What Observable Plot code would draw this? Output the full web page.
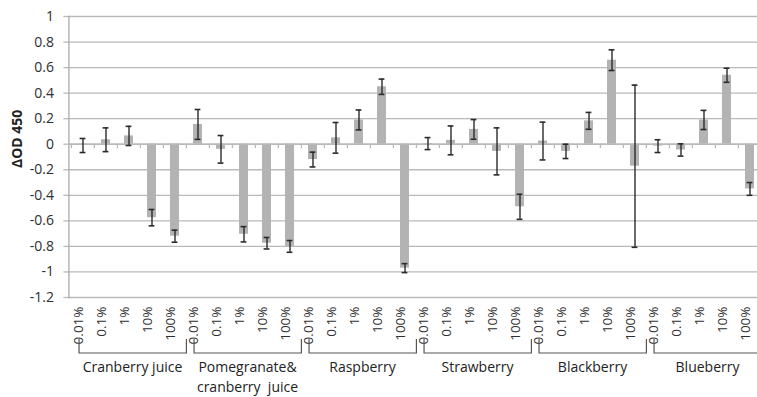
<!DOCTYPE html>
<html><head><meta charset="utf-8">
<script src="https://cdn.jsdelivr.net/npm/d3@7"></script>
<script src="https://cdn.jsdelivr.net/npm/@observablehq/plot@0.6"></script>
<style>
html,body{margin:0;padding:0;background:#fff;overflow:hidden;}
text{white-space:pre;}
</style></head><body><div id="chart"></div>
<script>
// ---- data ----
const groupLabels = ["Cranberry juice", "Pomegranate&\ncranberry  juice", "Raspberry", "Strawberry", "Blackberry", "Blueberry"];
const concentrations = ["0.01%", "0.1%", "1%", "10%", "100%"];
const cranberryJuice      = [-0.01, 0.035, 0.065, -0.575, -0.72];
const cranberryJuiceErr   = [0.055, 0.093, 0.075, 0.064, 0.047];
const pomegranateCran     = [0.155, -0.04, -0.705, -0.775, -0.80];
const pomegranateCranErr  = [0.117, 0.108, 0.06, 0.045, 0.046];
const raspberry           = [-0.12, 0.05, 0.19, 0.45, -0.97];
const raspberryErr        = [0.058, 0.12, 0.078, 0.06, 0.035];
const strawberry          = [0.005, 0.03, 0.116, -0.056, -0.49];
const strawberryErr       = [0.047, 0.113, 0.077, 0.184, 0.098];
const blackberry          = [0.025, -0.056, 0.183, 0.658, -0.172];
const blackberryErr       = [0.148, 0.056, 0.066, 0.081, 0.635];
const blueberry           = [-0.015, -0.045, 0.19, 0.54, -0.35];
const blueberryErr        = [0.05, 0.048, 0.075, 0.055, 0.05];
const yTicks = [-1.2, -1, -0.8, -0.6, -0.4, -0.2, 0, 0.2, 0.4, 0.6, 0.8, 1];

const seriesValues = [cranberryJuice, pomegranateCran, raspberry, strawberry, blackberry, blueberry];
const seriesErrors = [cranberryJuiceErr, pomegranateCranErr, raspberryErr, strawberryErr, blackberryErr, blueberryErr];

const rows = [];
groupLabels.forEach((g, gi) => concentrations.forEach((c, ci) => {
  rows.push({group: gi, conc: c, key: gi + "|" + c, value: seriesValues[gi][ci], err: seriesErrors[gi][ci]});
}));
const keys = rows.map(d => d.key);
const groupRows = groupLabels.map((g, gi) => ({label: g, first: gi + "|" + concentrations[0], mid: gi + "|" + concentrations[2], last: gi + "|" + concentrations[4]}));

// ---- layout ----
const W = 757, H = 397, mL = 68.4, mR = -6.6, mT = 16, mB = 100;
const step = (W - mL - mR) / keys.length;
const grid = "#b9b9b9", ink = "#2e2e2e";

const chart = Plot.plot({
  width: W, height: H,
  marginLeft: mL, marginRight: mR, marginTop: mT, marginBottom: mB,
  style: {fontFamily: "'Open Sans', sans-serif", fontSize: "14px", color: ink, background: "#fff", overflow: "visible"},
  x: {type: "band", domain: keys, paddingInner: 0.6, paddingOuter: 0.3, align: 0.5, axis: null},
  y: {domain: [-1.2, 1], axis: null},
  marks: [
    Plot.gridY(yTicks, {stroke: grid, strokeOpacity: 1, strokeWidth: 1.3}),
    Plot.axisY({ticks: yTicks, tickSize: 5, tickPadding: 10, tickFormat: d => String(d), stroke: grid, strokeWidth: 1.3, fill: ink, fontSize: 14, label: null}),
    Plot.frame({anchor: "left", stroke: "#aaaaaa", strokeWidth: 1.3}),
    Plot.text(["ΔOD 450"], {frameAnchor: "left", dx: -51, dy: 11, rotate: -90, fontWeight: "bold", fontSize: 14, fill: "#222"}),
    Plot.barY(rows, {x: "key", y: "value", fill: "#b3b3b3"}),
    Plot.ruleY([0], {stroke: grid, strokeWidth: 1.3}),
    Plot.ruleX(rows, {x: "key", y1: 0, y2: -0.035, dx: -step / 2, stroke: grid, strokeWidth: 1.3}),
    Plot.ruleX(rows, {x: "key", y1: d => d.value - d.err, y2: d => d.value + d.err, stroke: "#2a2a2a", strokeWidth: 1.4}),
    Plot.tickY(rows, {x: "key", y: d => d.value + d.err, stroke: "#2a2a2a", strokeWidth: 1.6, insetLeft: 1.6, insetRight: 1.6}),
    Plot.tickY(rows, {x: "key", y: d => d.value - d.err, stroke: "#2a2a2a", strokeWidth: 1.6, insetLeft: 1.6, insetRight: 1.6}),
    Plot.text(rows, {x: "key", text: "conc", frameAnchor: "bottom", rotate: -90, textAnchor: "end", dy: 9, fontSize: 13.5, fill: ink}),
    Plot.text(groupRows, {x: "mid", text: "label", frameAnchor: "bottom", lineAnchor: "top", dx: 3.5, dy: 61, lineHeight: 1.4, fontSize: 14, fill: "#222"})
  ]
});
document.getElementById("chart").appendChild(chart);

// brackets under the category labels, placed with the plot's x scale
const xs = chart.scale("x");
const svg = d3.select(chart);
const g = svg.append("g").attr("fill", "none").attr("stroke", "#555").attr("stroke-width", 1.2);
groupRows.forEach(r => {
  const start = xs.apply(r.first) - 0.3 * step;
  const end = start + 5 * step;
  const left = start + 8, right = end - 0.5;
  g.append("path").attr("d", `M${left},339V353H${right}V339`);
});
</script></body></html>
